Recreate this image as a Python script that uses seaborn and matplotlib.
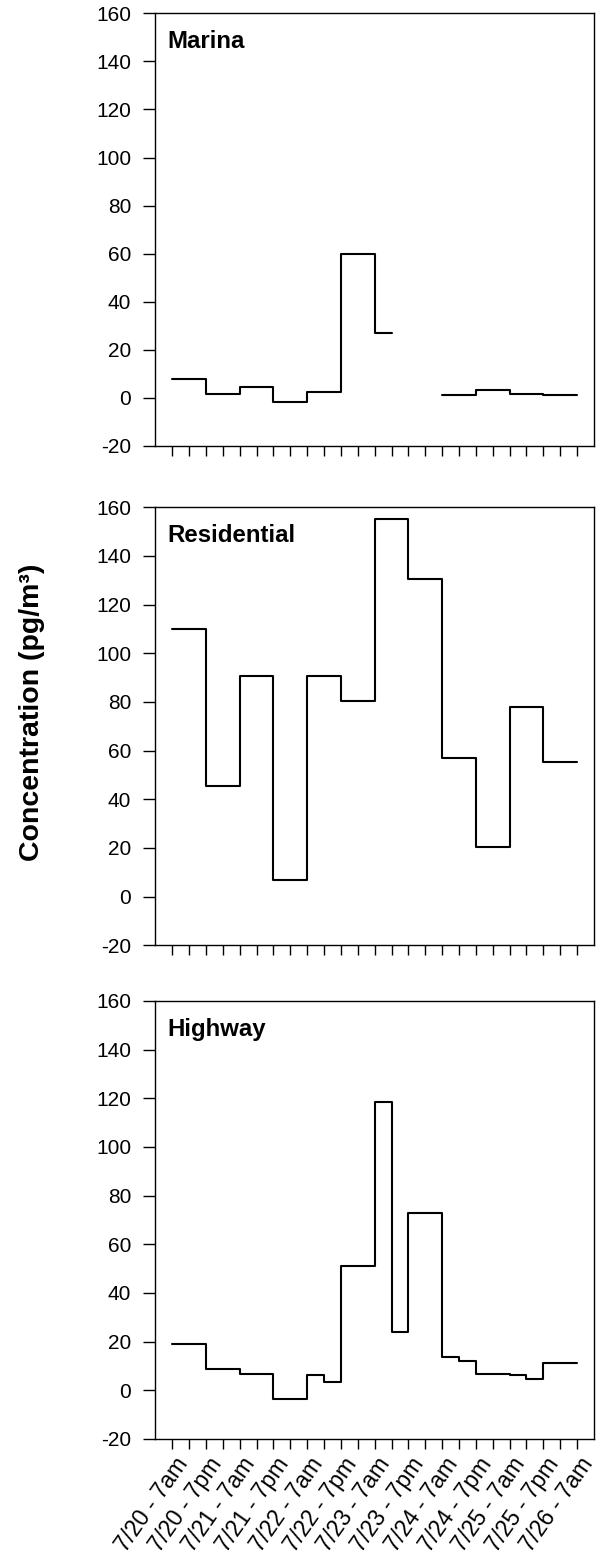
import numpy as np
import pandas as pd
import matplotlib
matplotlib.use("Agg")
import matplotlib.pyplot as plt
import matplotlib.transforms as mtransforms
import seaborn as sns

# Sampling windows: tick index = 6-hour steps starting 7/20 7am
tick_labels = ["7/20 - 7am", "7/20 - 7pm", "7/21 - 7am", "7/21 - 7pm",
               "7/22 - 7am", "7/22 - 7pm", "7/23 - 7am", "7/23 - 7pm",
               "7/24 - 7am", "7/24 - 7pm", "7/25 - 7am", "7/25 - 7pm",
               "7/26 - 7am"]

# Each site: window edges (tick units) and concentration per window (pg/m3)
marina_edges = [0, 2, 4, 6, 8, 10, 12, 13, 16, 18, 20, 22, 24]
marina_vals = [7.8, 1.7, 4.4, -1.9, 2.4, 60.0, 26.9, None, 1.25, 3.3, 1.8, 1.1]

residential_edges = [0, 2, 4, 6, 8, 10, 12, 14, 16, 18, 20, 22, 24]
residential_vals = [110.0, 45.6, 90.5, 6.8, 90.5, 80.4, 155.0, 130.3, 56.8, 20.4, 78.0, 55.3]

highway_edges = [0, 2, 4, 6, 8, 9, 10, 12, 13, 14, 16, 17, 18, 20, 21, 22, 24]
highway_vals = [19.2, 8.9, 6.7, -3.6, 6.3, 3.6, 51.2, 118.5, 24.0, 72.8,
                13.6, 12.2, 6.8, 6.3, 4.7, 11.4]

sites = [("Marina", marina_edges, marina_vals),
         ("Residential", residential_edges, residential_vals),
         ("Highway", highway_edges, highway_vals)]


def step_frame(edges, vals):
    """Turn windows into steps-post points, split into runs at missing windows."""
    rows = []
    run = 0
    i = 0
    n = len(vals)
    while i < n:
        if vals[i] is None:
            i += 1
            continue
        j = i
        while j + 1 < n and vals[j + 1] is not None:
            j += 1
        for k in range(i, j + 1):
            rows.append((edges[k], vals[k], run))
        rows.append((edges[j + 1], vals[j], run))
        run += 1
        i = j + 1
    return pd.DataFrame(rows, columns=["x", "y", "run"])


sns.set_theme(style="ticks")
plt.rcParams["font.family"] = ["Liberation Sans", "DejaVu Sans"]
plt.rcParams["axes.unicode_minus"] = False
for key in ("text.color", "axes.labelcolor", "xtick.color", "ytick.color",
            "axes.edgecolor"):
    plt.rcParams[key] = "black"

fig = plt.figure(figsize=(5.96, 15.66), dpi=100)

# axes boxes in figure fractions: (left, bottom, width, height)
boxes = [(0.2606, 0.7152, 0.736, 0.2763),
         (0.2606, 0.3964, 0.736, 0.2797),
         (0.2606, 0.0811, 0.736, 0.2797)]

for idx, ((name, edges, vals), box) in enumerate(zip(sites, boxes)):
    ax = fig.add_axes(box)
    df = step_frame(edges, vals)
    sns.lineplot(data=df, x="x", y="y", units="run", estimator=None,
                 drawstyle="steps-post", color="black", linewidth=1.5,
                 ax=ax, legend=False)
    ax.set_xlim(-1, 25)
    ax.set_ylim(-20, 160)
    ax.set_yticks(np.arange(-20, 161, 20))
    ax.set_xticks(np.arange(0, 25, 2))
    ax.set_xticks(np.arange(1, 25, 2), minor=True)
    for s in ax.spines.values():
        s.set_color("black")
        s.set_linewidth(1.0)
        s.set_visible(True)
    ax.tick_params(axis="y", which="major", direction="out", length=8.5,
                   width=1.0, labelsize=15, pad=9, right=False, color="black")
    ax.tick_params(axis="x", which="both", direction="out", length=7,
                   width=1.0, top=False, color="black")
    if idx == 2:
        ax.set_xticklabels(tick_labels, rotation=55, ha="right", va="center",
                           rotation_mode="anchor", fontsize=16.5)
        ax.tick_params(axis="x", which="major", pad=8)
        shift = mtransforms.ScaledTranslation(11 / 100, 0, fig.dpi_scale_trans)
        for lab in ax.get_xticklabels():
            lab.set_transform(lab.get_transform() + shift)
    else:
        ax.set_xticklabels([])
    ax.set_xlabel("")
    ax.set_ylabel("")
    ax.text(0.027, 0.92, name, transform=ax.transAxes, fontsize=17.3,
            fontweight="bold", ha="left", va="baseline")

fig.text(32 / 596, 1 - 712 / 1566, "Concentration (pg/m³)", rotation=90,
         ha="center", va="center", fontsize=20.5, fontweight="bold")

fig.savefig("out.png", dpi=100, facecolor="white")
